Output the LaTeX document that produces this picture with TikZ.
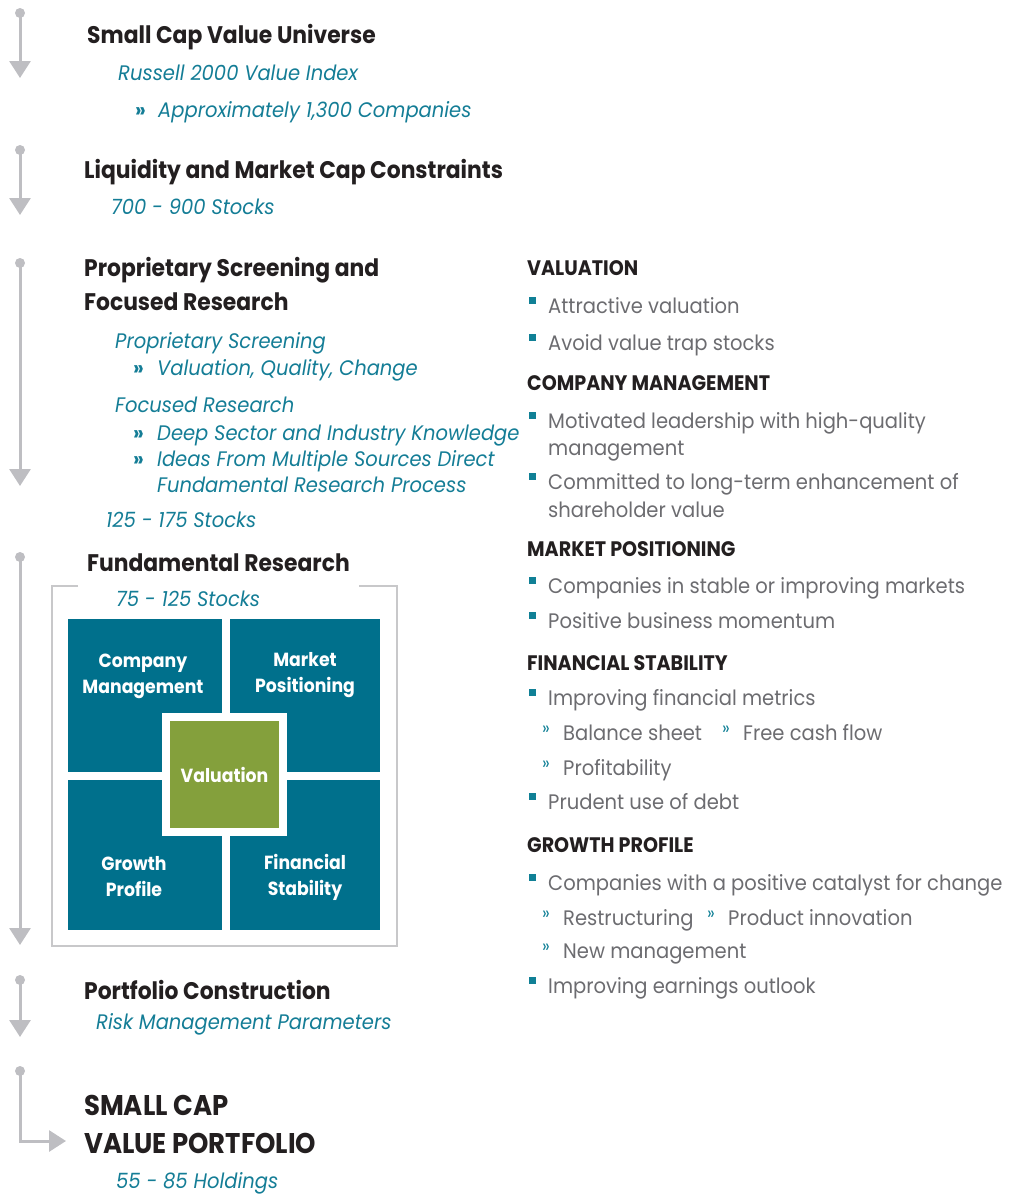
\documentclass[tikz,border=0pt]{standalone}
\usepackage{fontspec}
\setmainfont{Poppins}[FakeStretch=0.93]
\newfontfamily\demifont{Poppins Bold}[FakeStretch=0.91]
\usetikzlibrary{arrows.meta,positioning}

% Farben
\definecolor{arrowgray}{RGB}{190,190,194}
\definecolor{framegray}{RGB}{200,200,202}
\definecolor{inkblack}{RGB}{35,31,32}
\definecolor{bodygray}{RGB}{108,108,112}
\definecolor{tealtext}{RGB}{20,125,150}
\definecolor{tealbox}{RGB}{0,112,140}
\definecolor{olivebox}{RGB}{132,160,60}
\definecolor{bulletteal}{RGB}{16,128,150}

\begin{document}
\begin{tikzpicture}[x=1pt,y=-1pt,
  flow/.style={arrowgray, line width=3pt, -{Triangle[width=21pt,length=17pt]}},
  stage/.style={font=\demifont\fontsize{24}{34}\selectfont, text=inkblack, anchor=base west, inner sep=0pt},
  final/.style={font=\demifont\fontsize{28.5}{38}\selectfont, text=inkblack, anchor=base west, inner sep=0pt},
  note/.style={font=\itshape\fontsize{21}{26}\selectfont, text=tealtext, anchor=base west, inner sep=0pt},
  chev/.style={font=\demifont\fontsize{21}{26}\selectfont, text=tealtext, anchor=base west, inner sep=0pt},
  crit/.style={font=\demifont\fontsize{21}{24}\selectfont, text=inkblack, anchor=base west, inner sep=0pt},
  item/.style={font=\fontsize{21}{27}\selectfont, text=bodygray, anchor=base west, inner sep=0pt},
  subchev/.style={font=\fontsize{18}{20}\selectfont, text=bulletteal, anchor=base west, inner sep=0pt},
  cell/.style={fill=tealbox, inner sep=0pt},
  celltext/.style={font=\demifont\fontsize{19}{26}\selectfont, text=white, align=center, inner sep=0pt}
]
  \useasboundingbox (0,0) rectangle (1019,1194);

  % Prozesspfeile links
  \foreach \ya/\yb [count=\i] in {13/78, 150/215, 263/486, 557/945, 980/1037} {
    \coordinate (top\i) at (20,\ya);
    \coordinate (tip\i) at (20,\yb);
    \fill[arrowgray] (top\i) circle (5pt);
    \draw[flow] (top\i) -- (tip\i);
  }
  % letzter Pfeil mit Knick
  \coordinate (top6) at (20,1071);
  \coordinate (bend) at (20,1141);
  \coordinate (tip6) at (66,1141);
  \fill[arrowgray] (top6) circle (5pt);
  \draw[flow] (top6) -- (bend) -- (tip6);

  % Stufe 1
  \node[stage] (universe) at (87,43) {Small Cap Value Universe};
  \node[note] (russell) at (118,80) {Russell 2000 Value Index};
  \node[chev] (chev1) at (135,117) {»};
  \node[note] (approx) at (158,117) {Approximately 1,300 Companies};

  % Stufe 2
  \node[stage] (liquid) at (84,178) {Liquidity and Market Cap Constraints};
  \node[note] (liqnum) at (111,214) {700 - 900 Stocks};

  % Stufe 3
  \node[stage] (screen1) at (84,276) {Proprietary Screening and};
  \node[stage] (screen2) at (84,310) {Focused Research};
  \node[note] (propscr) at (115,348) {Proprietary Screening};
  \node[note] (focres) at (115,412) {Focused Research};
  \foreach \y/\lab [count=\i] in {375/{Valuation, Quality, Change}, 440/Deep Sector and Industry Knowledge, 466/Ideas From Multiple Sources Direct} {
    \node[chev] (chev\i b) at (133,\y) {»};
    \node[note] (scrn\i) at (157,\y) {\lab};
  }
  \node[note] (scrn4) at (157,492) {Fundamental Research Process};
  \node[note] (scrnum) at (106,527) {125 - 175 Stocks};

  % Stufe 4 - Fundamentalanalyse
  \node[stage] (fundres) at (87,571) {Fundamental Research};
  \draw[framegray, line width=2.5pt] (78,586) -- (52,586) -- (52,946) -- (397,946) -- (397,586) -- (359,586);
  \node[note] (fundnum) at (116,606) {75 - 125 Stocks};
  \node[cell, minimum width=154pt, minimum height=153pt] (cm) at (145,695.5) {};
  \node[cell, minimum width=150pt, minimum height=153pt] (mp) at (305,695.5) {};
  \node[cell, minimum width=154pt, minimum height=150pt] (gp) at (145,855) {};
  \node[cell, minimum width=150pt, minimum height=150pt] (fs) at (305,855) {};
  \node[celltext] (cmtext) at (143,676) {Company\\Management};
  \node[celltext] (mptext) at (305,675) {Market\\Positioning};
  \node[celltext] (gptext) at (134,877) {Growth\\Profile};
  \node[celltext] (fstext) at (305,877) {Financial\\Stability};
  \node[fill=olivebox, draw=white, line width=8pt, minimum width=117pt, minimum height=115pt,
        font=\demifont\fontsize{19}{24}\selectfont, text=white, inner sep=0pt] (valbox) at (224.5,774.5) {Valuation};

  % Stufe 5
  \node[stage] (portcon) at (84,999) {Portfolio Construction};
  \node[note] (riskpar) at (96,1029) {Risk Management Parameters};

  % Ergebnis
  \node[final] (result1) at (84,1115) {SMALL CAP};
  \node[final] (result2) at (84,1153) {VALUE PORTFOLIO};
  \node[note] (holdings) at (116,1188) {55 - 85 Holdings};

  % Kriterien rechts
  \foreach \y/\lab [count=\i] in {275/VALUATION, 390/COMPANY MANAGEMENT, 556/MARKET POSITIONING, 670/FINANCIAL STABILITY, 852/GROWTH PROFILE}
    \node[crit] (crit\i) at (527,\y) {\lab};
  % Aufzaehlungspunkte
  \foreach \y/\lab [count=\i] in {313/Attractive valuation, 350/Avoid value trap stocks, 428/Motivated leadership with high-quality, 489/Committed to long-term enhancement of, 593/Companies in stable or improving markets, 628/Positive business momentum, 705/Improving financial metrics, 809/Prudent use of debt, 890/Companies with a positive catalyst for change, 993/Improving earnings outlook} {
    \fill[bulletteal] (529,\y-16) rectangle ++(7,7);
    \node[item] (item\i) at (548,\y) {\lab};
  }
  \node[item] (item3b) at (548,455) {management};
  \node[item] (item4b) at (548,517) {shareholder value};
  % Unterpunkte
  \foreach \x/\y/\lab [count=\i] in {542/740/Balance sheet, 722/740/Free cash flow, 542/775/Profitability, 542/925/Restructuring, 707/925/Product innovation, 542/958/New management} {
    \node[subchev] (sub\i) at (\x,\y-6) {»};
    \node[item] (subtext\i) at (\x+21,\y) {\lab};
  }
\end{tikzpicture}
\end{document}
